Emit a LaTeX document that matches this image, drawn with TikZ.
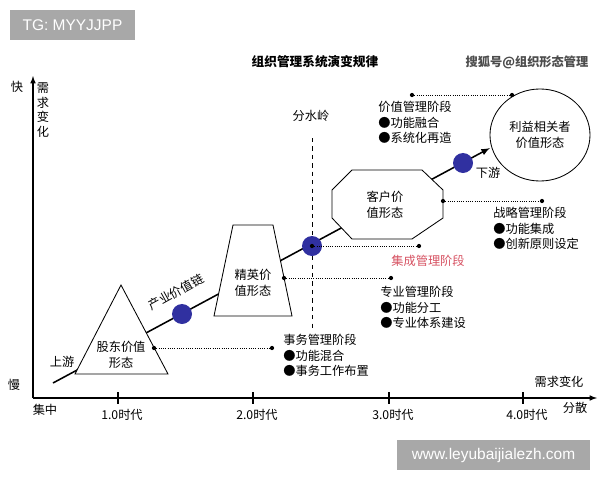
\documentclass[tikz,border=0pt]{standalone}
\usepackage{fontspec}
\setmainfont{Noto Sans CJK SC}
\newfontfamily\markfont{Liberation Sans}
\usepackage{tikz}
\usetikzlibrary{arrows,shapes.geometric}

\definecolor{knotblue}{RGB}{48,48,160}
\definecolor{stagered}{RGB}{214,82,98}
\definecolor{markgray}{RGB}{168,168,168}

\tikzset{
  lbl/.style={inner sep=0pt, font=\fontsize{8.7}{11}\selectfont},
  stage/.style={lbl, anchor=north west, align=left},
  form/.style={draw, fill=white, line width=0.6pt},
  enddot/.style={circle, fill, inner sep=0pt, minimum size=3pt},
  link/.style={densely dotted, line width=0.6pt},
  valuedot/.style={circle, fill=knotblue, inner sep=0pt, minimum size=0.5cm},
  axis/.style={line width=0.8pt},
  watermark/.style={text=white, font=\markfont\fontsize{11}{13}\selectfont}
}

\begin{document}
\begin{tikzpicture}[x=0.025cm, y=-0.025cm]
\useasboundingbox (0,0) rectangle (600,480);

% watermarks
\fill[markgray] (10,10) rectangle (135,40);
\node[watermark] (tg) at (72.5,25) {TG: MYYJJPP};
\fill[markgray] (397,440) rectangle (590,470);
\node[watermark] (site) at (493.5,455) {www.leyubaijialezh.com};

% titles
\node[lbl, font=\bfseries\fontsize{9}{11}\selectfont] (title) at (315,62) {组织管理系统演变规律};
\node[lbl, font=\bfseries\fontsize{8.7}{11}\selectfont, text=black!70] (source) at (527,62) {搜狐号@组织形态管理};

% axes
\coordinate (o) at (33,398);
\coordinate (ytop) at (33,76);
\coordinate (xend) at (597,398);
\draw[axis, -latex] (o) -- (ytop);
\draw[axis, -latex] (o) -- (xend);
\foreach \x [count=\i] in {118,253,389,523} {
  \draw[axis] (\x,392) -- (\x,404);
  \node[lbl] (era\i) at (\x+4,415) {\i.0时代};
}
\node[lbl] (fast) at (17,87) {快};
\node[lbl] (slow) at (14,385) {慢};
\node[lbl, align=center, font=\fontsize{8.7}{10.5}\selectfont] (yname) at (43,110) {需\\求\\变\\化};
\node[lbl] (xname) at (559,382) {需求变化};
\node[lbl] (central) at (45,410) {集中};
\node[lbl] (spread) at (575,408) {分散};

% watershed
\coordinate (ridgetop) at (312,138);
\coordinate (ridgefoot) at (312,332);
\node[lbl] (ridge) at (311,116) {分水岭};
\draw[dashed, line width=0.6pt] (ridgetop) -- (ridgefoot);

% value chain
\coordinate (up) at (53,383);
\coordinate (down) at (490,148);
\draw[-latex, line width=1.1pt] (up) -- (down);
\node[lbl] (upstream) at (62,362) {上游};
\node[lbl] (downstream) at (488,173) {下游};
\node[lbl, rotate=29] (chain) at (176,292) {产业价值链};

% value forms
\draw[form] (75,374) -- (121,285) -- (168,374) -- cycle;
\node[lbl, align=center] (holder) at (121,355) {股东价值\\形态};

\draw[form] (233,225) -- (273,225) -- (292,316) -- (214,316) -- cycle;
\node[lbl, align=center] (elite) at (253,283) {精英价\\值形态};

\draw[form] (352,170) -- (422,170) -- (443,190) -- (443,218) -- (412,239)
  -- (352,239) -- (332,218) -- (332,190) -- cycle;
\node[lbl, align=center] (client) at (385,205) {客户价\\值形态};

\node[form, ellipse, minimum width=2.5cm, minimum height=2.3cm, align=center,
  font=\fontsize{8.7}{11}\selectfont] (stake) at (540,135) {利益相关者\\价值形态};

\node[valuedot] (k1) at (182,314) {};
\node[valuedot] (k2) at (312,246) {};
\node[valuedot] (k3) at (463,163) {};

% stage links
\foreach \i/\ax/\ay/\bx/\by in {1/154/348/272/348, 2/284/278/391/278,
    3/312/246/419/246, 4/443/201/542/201, 5/412/95/512/95} {
  \node[enddot] (a\i) at (\ax,\ay) {};
  \node[enddot] (b\i) at (\bx,\by) {};
  \draw[link] (a\i) -- (b\i);
}

% stages
\node[stage] (affairs) at (283,334) {事务管理阶段\\●功能混合\\●事务工作布置};
\node[stage] (special) at (380,286) {专业管理阶段\\●功能分工\\●专业体系建设};
\node[lbl, text=stagered] (integrate) at (428,261) {集成管理阶段};
\node[stage] (strategy) at (493,207) {战略管理阶段\\●功能集成\\●创新原则设定};
\node[stage] (value) at (378,101) {价值管理阶段\\●功能融合\\●系统化再造};
\end{tikzpicture}
\end{document}
